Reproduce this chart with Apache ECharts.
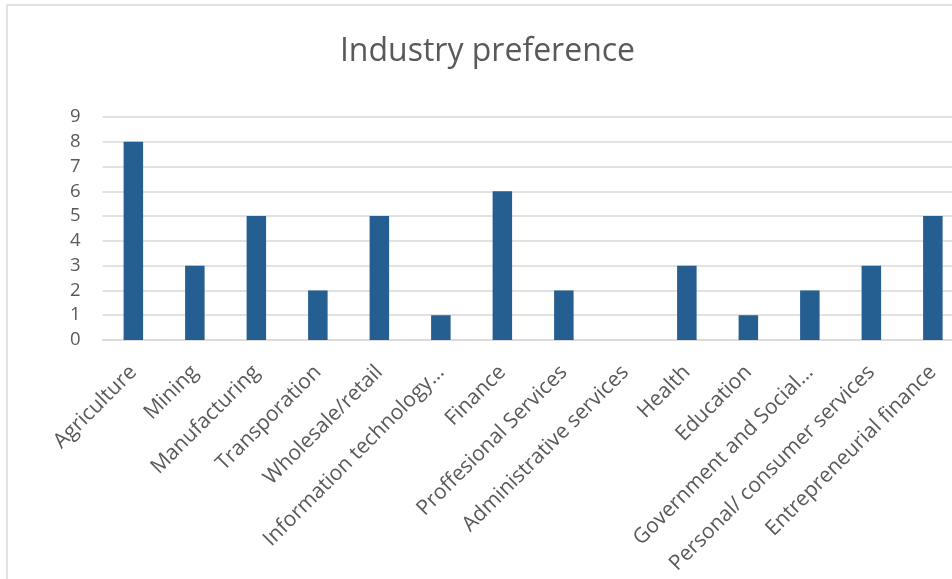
<!DOCTYPE html>
<html>
<head>
<meta charset="utf-8">
<script src="https://cdn.jsdelivr.net/npm/echarts@6/dist/echarts.min.js"></script>
<style>
html,body{margin:0;padding:0;overflow:hidden;background:#fff;width:952px;height:579px;}
#chart{width:975px;height:579px;}
</style>
</head>
<body>
<div id="chart"></div>
<script>
const titleText = "Industry preference";
const categories = [
  "Agriculture", "Mining", "Manufacturing", "Transporation", "Wholesale/retail",
  "Information technology…", "Finance", "Proffesional Services", "Administrative services",
  "Health", "Education", "Government and Social…", "Personal/ consumer services",
  "Entrepreneurial finance"
];
const values = [8, 3, 5, 2, 5, 1, 6, 2, 0, 3, 1, 2, 3, 5];
const yTicks = { min: 0, max: 9, interval: 1 };

const FONT = "Open Sans";
const chart = echarts.init(document.getElementById('chart'), null, { renderer: 'canvas' });
chart.setOption({
  animation: false,
  backgroundColor: '#ffffff',
  title: {
    text: titleText,
    left: 'center',
    top: 31,
    textStyle: { fontFamily: FONT, fontSize: 32, fontWeight: 'normal', color: '#595959' }
  },
  graphic: [{
    type: 'rect',
    shape: { x: 7, y: 5, width: 962, height: 700 },
    style: { fill: 'none', stroke: '#d9d9d9', lineWidth: 1.5 },
    silent: true
  }],
  grid: { left: 102.6, right: 11.4, top: 117, bottom: 239, containLabel: false },
  xAxis: {
    type: 'category',
    data: categories,
    axisTick: { show: false },
    axisLine: { show: true, lineStyle: { color: '#d9d9d9', width: 1.5 } },
    axisLabel: {
      interval: 0,
      rotate: 45,
      margin: 29,
      fontFamily: FONT,
      fontSize: 21,
      color: '#595959'
    }
  },
  yAxis: {
    type: 'value',
    min: yTicks.min,
    max: yTicks.max,
    interval: yTicks.interval,
    axisLine: { show: false },
    axisTick: { show: false },
    splitLine: { lineStyle: { color: '#d9d9d9', width: 1.5 } },
    axisLabel: { margin: 22, fontFamily: FONT, fontSize: 18.5, color: '#595959' }
  },
  series: [{
    type: 'bar',
    data: values,
    barWidth: 19.5,
    itemStyle: { color: '#255e91' }
  }]
});
</script>
</body>
</html>
